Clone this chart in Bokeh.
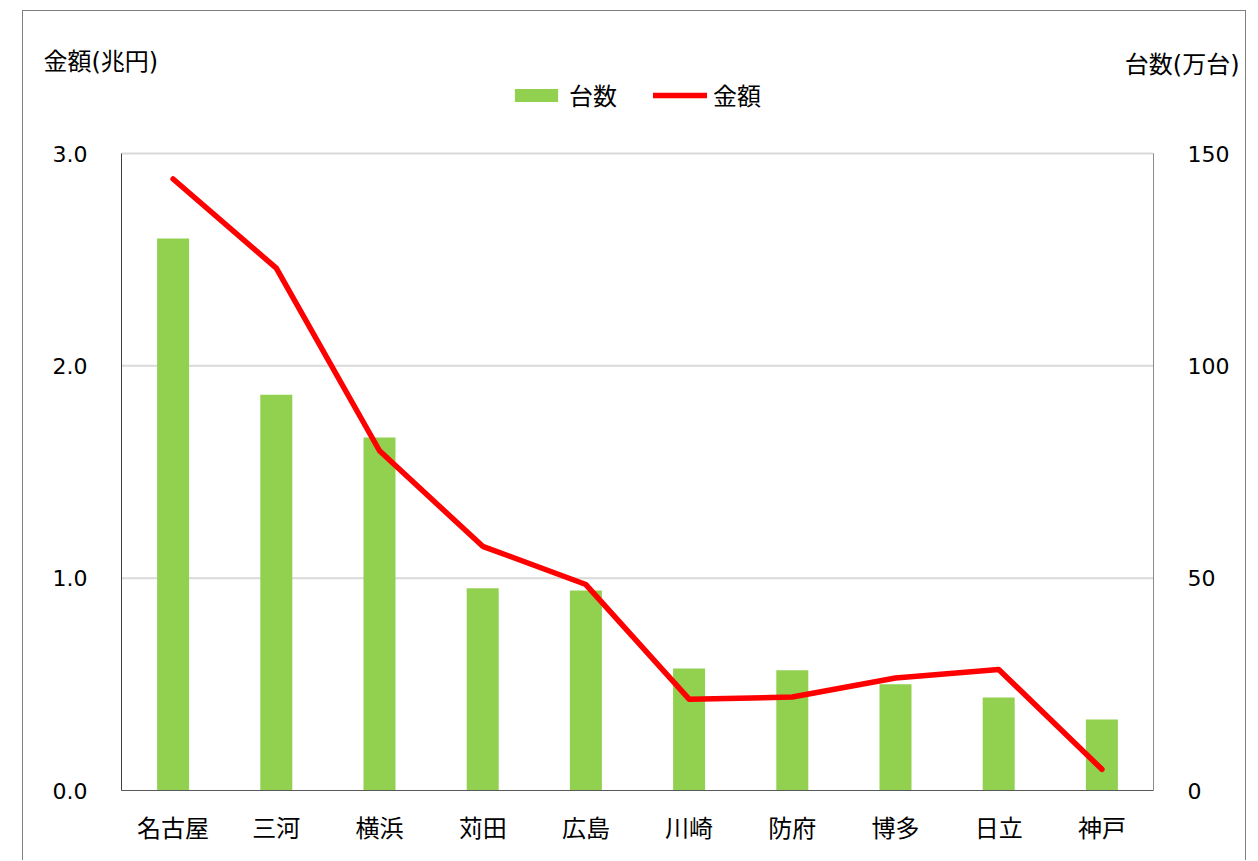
from bokeh.plotting import figure
from bokeh.models import (Range1d, LinearAxis, FactorRange, Legend, LegendItem,
                          Label, FixedTicker, NumeralTickFormatter)
from bokeh.embed import file_html
from bokeh.resources import INLINE

categories = ["名古屋", "三河", "横浜", "苅田", "広島", "川崎", "防府", "博多", "日立", "神戸"]
units_man = [130, 93.2, 83.1, 47.6, 47.1, 28.7, 28.3, 25.0, 21.9, 16.7]   # 台数(万台)
amount_cho = [2.88, 2.46, 1.60, 1.15, 0.97, 0.43, 0.44, 0.53, 0.57, 0.10]  # 金額(兆円)
left_ticks = [0, 1, 2, 3]
right_ticks = [0, 50, 100, 150]

FONT = "Noto Sans CJK JP"
NUMFONT = "DejaVu Sans"
MIXFONT = "'DejaVu Sans', 'Noto Sans CJK JP'"
FS = "24px"
NFS = "22px"

# layout (pixels)
W, H = 1224, 850
BORDER_L = 4
FRAME_W, FRAME_H = W - BORDER_L, H                  # 1220 x 850
DATA_W, DATA_H = 1032, 637                          # plotting area inside the frame
ABOVE, BELOW = 142, 71                              # frame space above / below plotting area
side_pad = (len(categories) * (FRAME_W / DATA_W) - len(categories)) / 2

x_range = FactorRange(*categories, range_padding=side_pad, range_padding_units="absolute")
y_left = Range1d(-left_ticks[-1] * BELOW / DATA_H, left_ticks[-1] * (1 + ABOVE / DATA_H))
y_right = Range1d(-right_ticks[-1] * BELOW / DATA_H, right_ticks[-1] * (1 + ABOVE / DATA_H))

p = figure(x_range=x_range, y_range=y_left, width=W, height=H,
           output_backend="svg", toolbar_location=None,
           min_border_left=BORDER_L, min_border_right=0, min_border_top=0,
           min_border_bottom=0)
p.margin = (10, 0, 0, 22)
p.styles = {"border-left": "1px solid #7f7f7f", "border-top": "1px solid #7f7f7f",
            "border-right": "1px solid #7f7f7f"}
p.outline_line_color = None
p.extra_y_ranges = {"right": y_right}

# grid: drawn only across the category span
p.xgrid.visible = False
p.ygrid.visible = False
grid_vals = left_ticks[1:]
p.segment(x0=[(categories[0], -0.5)] * len(grid_vals), x1=[(categories[-1], 0.5)] * len(grid_vals),
          y0=grid_vals, y1=grid_vals, line_color="#d9d9d9", line_width=2)

bars = p.vbar(x=categories, top=units_man, width=0.31, y_range_name="right",
              fill_color="#92d050", line_color=None)
line = p.line(x=categories, y=amount_cho, line_color="#ff0000", line_width=5.5,
              line_cap="round", line_join="round")

# left axis
ly = p.yaxis[0]
ly.fixed_location = 0
ly.bounds = (left_ticks[0], left_ticks[-1])
ly.ticker = FixedTicker(ticks=left_ticks)
ly.formatter = NumeralTickFormatter(format="0.0")
ly.axis_line_color = "#404040"
ly.axis_line_width = 1
ly.major_tick_line_color = None
ly.minor_tick_line_color = None
ly.major_label_standoff = 28
ly.major_label_text_font = NUMFONT
ly.major_label_text_font_size = NFS
ly.major_label_text_color = "#000000"

# right axis
ry = LinearAxis(y_range_name="right", ticker=FixedTicker(ticks=right_ticks),
                fixed_location=len(categories), bounds=(right_ticks[0], right_ticks[-1]))
ry.axis_line_color = "#8c8c8c"
ry.axis_line_width = 1
ry.major_tick_line_color = None
ry.minor_tick_line_color = None
ry.major_label_standoff = 28
ry.major_label_text_font = NUMFONT
ry.major_label_text_font_size = NFS
ry.major_label_text_color = "#000000"
p.add_layout(ry, "right")

# x axis
xa = p.xaxis[0]
xa.fixed_location = 0
xa.bounds = (0, len(categories))
xa.axis_line_color = "#595959"
xa.axis_line_width = 1
xa.major_tick_line_color = None
xa.minor_tick_line_color = None
xa.major_label_standoff = 12
xa.major_label_text_font = FONT
xa.major_label_text_font_size = FS
xa.major_label_text_color = "#000000"

# axis titles (horizontal, above the plotting area); screen units from frame bottom-left
TOP_Y = BELOW + DATA_H + ABOVE   # frame top, in screen units from the frame bottom
p.add_layout(Label(x=16, y=TOP_Y - 50, x_units="screen", y_units="screen", text="金額(兆円)",
                   text_font=MIXFONT, text_font_size=FS, text_baseline="middle",
                   text_align="left", text_color="#000000"))
p.add_layout(Label(x=FRAME_W - 8, y=TOP_Y - 53, x_units="screen", y_units="screen",
                   text="台数(万台)", text_font=MIXFONT, text_font_size=FS,
                   text_baseline="middle", text_align="right", text_color="#000000"))

legend = Legend(items=[LegendItem(label="台数", renderers=[bars]),
                       LegendItem(label="金額", renderers=[line])],
                orientation="horizontal", location=(482, TOP_Y - 101),
                glyph_width=54, glyph_height=16, label_standoff=6, spacing=36,
                padding=0, margin=0, border_line_color=None, background_fill_alpha=0,
                label_text_font=FONT, label_text_font_size=FS, label_text_color="#000000")
p.add_layout(legend, "center")

open("out.html", "w").write(file_html(p, INLINE))
